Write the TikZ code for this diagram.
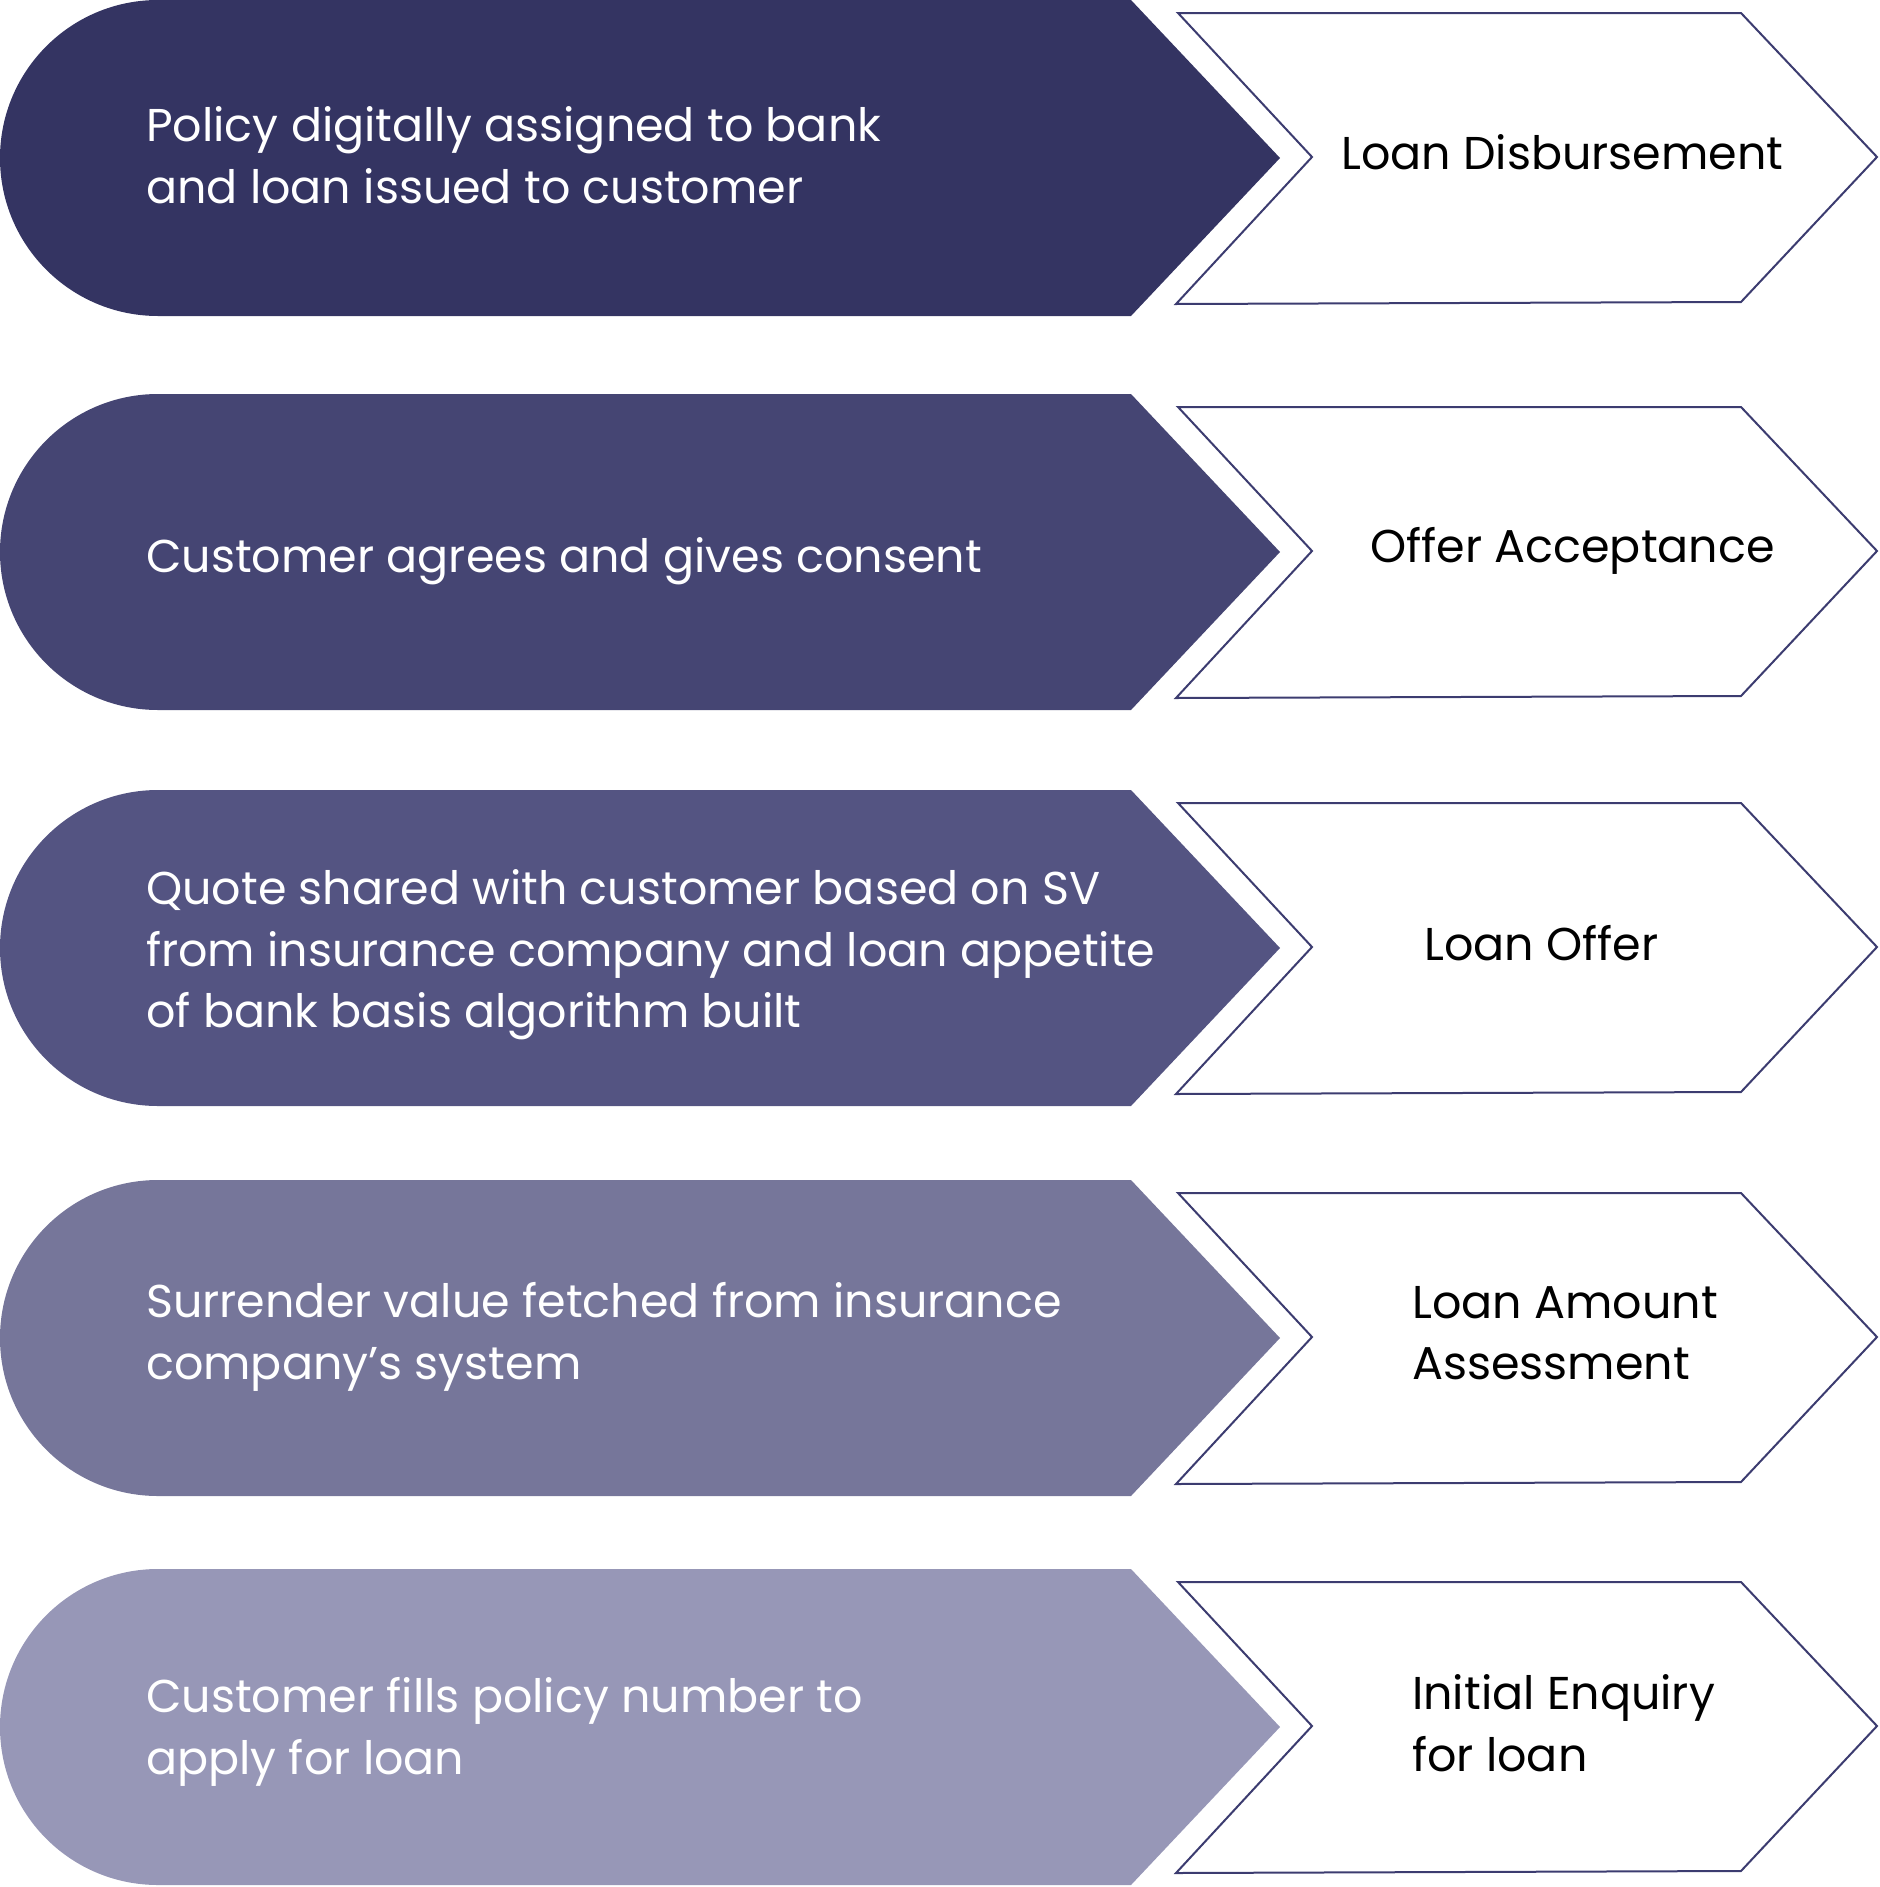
\documentclass[tikz,border=0pt]{standalone}
\usepackage{fontspec}
\setmainfont{Poppins}
\definecolor{cA}{HTML}{343462}
\definecolor{cB}{HTML}{454573}
\definecolor{cC}{HTML}{545482}
\definecolor{cD}{HTML}{76769A}
\definecolor{cE}{HTML}{9797B7}
\definecolor{outl}{HTML}{3C3C70}
\begin{document}
\begin{tikzpicture}[x=1pt,y=-1pt,
  lefttxt/.style={anchor=west, align=left, text=white, inner sep=0pt, font=\fontsize{46}{61.5}\selectfont},
  righttxt/.style={anchor=west, align=left, text=black, inner sep=0pt, font=\fontsize{46}{61.5}\selectfont},
  outlinebox/.style={draw=outl, line width=2pt, fill=white, line join=miter}]
\useasboundingbox (0,0) rectangle (1879,1887);
\foreach \t/\c in {0/cA, 394/cB, 790/cC, 1180/cD, 1569/cE} {
  \fill[\c] (158,\t) -- (1131,\t) -- (1280,\t+158) -- (1131,\t+316) -- (158,\t+316)
     arc[start angle=90, end angle=270, radius=158] -- cycle;
  \draw[outlinebox] (1178,\t+13) -- (1741,\t+13) -- (1877,\t+157) -- (1741,\t+302)
     -- (1176,\t+304) -- (1312,\t+157) -- cycle;
}
\node[lefttxt] (l1) at (146,155) {Policy digitally assigned to bank\\and loan issued to customer};
\node[lefttxt] (l2) at (146,561) {Customer agrees and gives consent};
\node[lefttxt] (l3) at (146,955) {Quote shared with customer based on SV\\from insurance company and loan appetite\\of bank basis algorithm built};
\node[lefttxt] (l4) at (146,1337) {Surrender value fetched from insurance\\company’s system};
\node[lefttxt] (l5) at (146,1732) {Customer fills policy number to\\apply for loan};
\node[righttxt] (r1) at (1341,152) {Loan Disbursement};
\node[righttxt] (r2) at (1370,551) {Offer Acceptance};
\node[righttxt] (r3) at (1424,943) {Loan Offer};
\node[righttxt] (r4) at (1412,1333) {Loan Amount\\Assessment};
\node[righttxt] (r5) at (1412,1723) {Initial Enquiry\\for loan};
\end{tikzpicture}
\end{document}
